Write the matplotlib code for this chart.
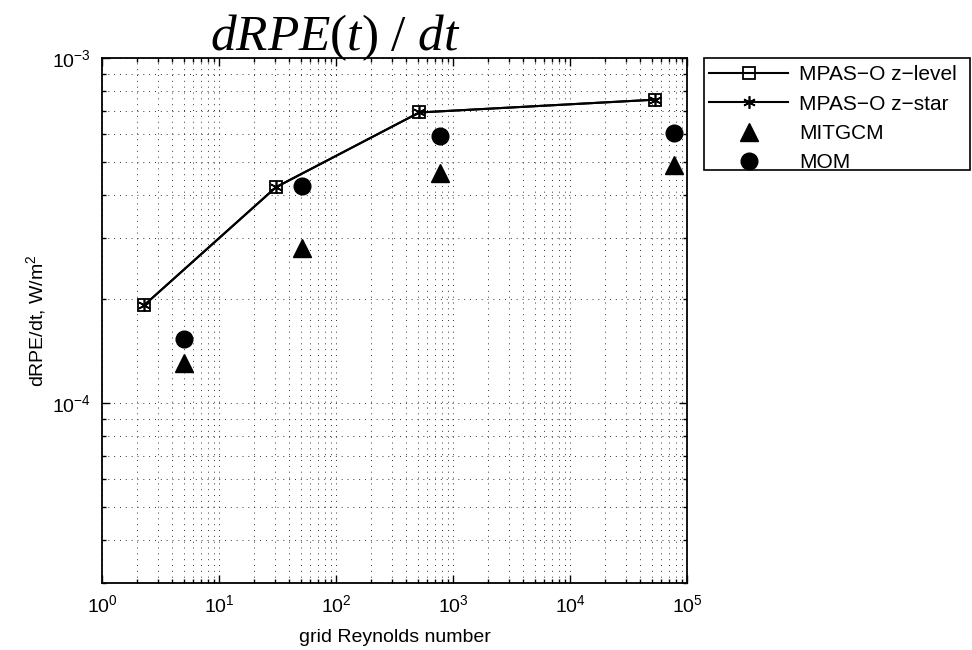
import matplotlib
matplotlib.use("Agg")
import matplotlib.pyplot as plt
from matplotlib.ticker import LogLocator, NullFormatter
from matplotlib.patches import Rectangle

# data
re_zlevel = [2.3, 30.7, 515, 53200]
rpe_zlevel = [1.92e-4, 4.22e-4, 6.95e-4, 7.57e-4]
re_zstar = [2.3, 30.7, 515, 53200]
rpe_zstar = [1.92e-4, 4.22e-4, 6.95e-4, 7.57e-4]
re_mitgcm = [5.05, 50.9, 774, 77900]
rpe_mitgcm = [1.30e-4, 2.82e-4, 4.65e-4, 4.90e-4]
re_mom = [5.05, 50.9, 774, 77900]
rpe_mom = [1.53e-4, 4.25e-4, 5.92e-4, 6.05e-4]
labels = ['MPAS\u2212O z\u2212level', 'MPAS\u2212O z\u2212star', 'MITGCM', 'MOM']

plt.rcParams['font.family'] = ['Liberation Sans', 'DejaVu Sans']
plt.rcParams['mathtext.fontset'] = 'custom'
plt.rcParams['mathtext.it'] = 'Liberation Serif:italic'
plt.rcParams['mathtext.rm'] = 'Liberation Serif'

W, H = 972, 650
fig = plt.figure(figsize=(W / 100, H / 100), dpi=100)
ax = fig.add_axes([102 / W, 1 - 583 / H, 585 / W, 525 / H])

ax.set_xscale('log')
ax.set_yscale('log')
ax.set_xlim(1, 1e5)
ax.set_ylim(3e-5, 1e-3)

h1, = ax.plot(re_zlevel, rpe_zlevel, color='black', lw=1.5, marker='s', ms=9,
              mfc='none', mec='black', mew=1.3, label=labels[0])
h2, = ax.plot(re_zstar, rpe_zstar, color='black', lw=1.5, marker=(6, 2, 0), ms=9,
              mfc='black', mec='black', mew=1.2, label=labels[1])
h3, = ax.plot(re_mitgcm, rpe_mitgcm, ls='none', marker='^', ms=13,
              color='black', label=labels[2])
h4, = ax.plot(re_mom, rpe_mom, ls='none', marker='o', ms=12,
              color='black', label=labels[3])

ax.xaxis.set_major_locator(LogLocator(base=10, numticks=10))
ax.xaxis.set_minor_locator(LogLocator(base=10, subs=range(2, 10), numticks=20))
ax.yaxis.set_major_locator(LogLocator(base=10, numticks=10))
ax.yaxis.set_minor_locator(LogLocator(base=10, subs=range(2, 10), numticks=20))
ax.xaxis.set_minor_formatter(NullFormatter())
ax.yaxis.set_minor_formatter(NullFormatter())

ax.grid(True, which='both', color='0.2', linestyle=(0, (1, 5)), linewidth=0.7)
ax.set_axisbelow(True)
ax.tick_params(which='both', direction='in', top=True, right=True, labelsize=14,
               width=1.0)
ax.tick_params(which='major', length=6, pad=8)
ax.tick_params(which='minor', length=3)
for s in ax.spines.values():
    s.set_linewidth(1.3)

ax.set_xlabel('grid Reynolds number', fontsize=14, labelpad=9)
ax.set_ylabel('dRPE/dt, W/m$\\mathdefault{^2}$', fontsize=14, labelpad=3)
fig.text(335 / W, 1 - 50 / H, '$dRPE(t)\\ /\\ dt$', fontsize=37,
         ha='center', va='baseline')

leg = fig.legend(handles=[h1, h2, h3, h4], loc='upper left',
                 bbox_to_anchor=(703 / W, 1 - 59 / H),
                 frameon=False, fontsize=15,
                 handlelength=3.8, borderaxespad=0, borderpad=0.3,
                 labelspacing=0.5, handletextpad=0.5)
fig.patches.append(Rectangle((704 / W, 1 - 170 / H), 266 / W, 112 / H,
                             transform=fig.transFigure, fill=False,
                             edgecolor='black', linewidth=1.2))

fig.savefig('out.png', dpi=100)
